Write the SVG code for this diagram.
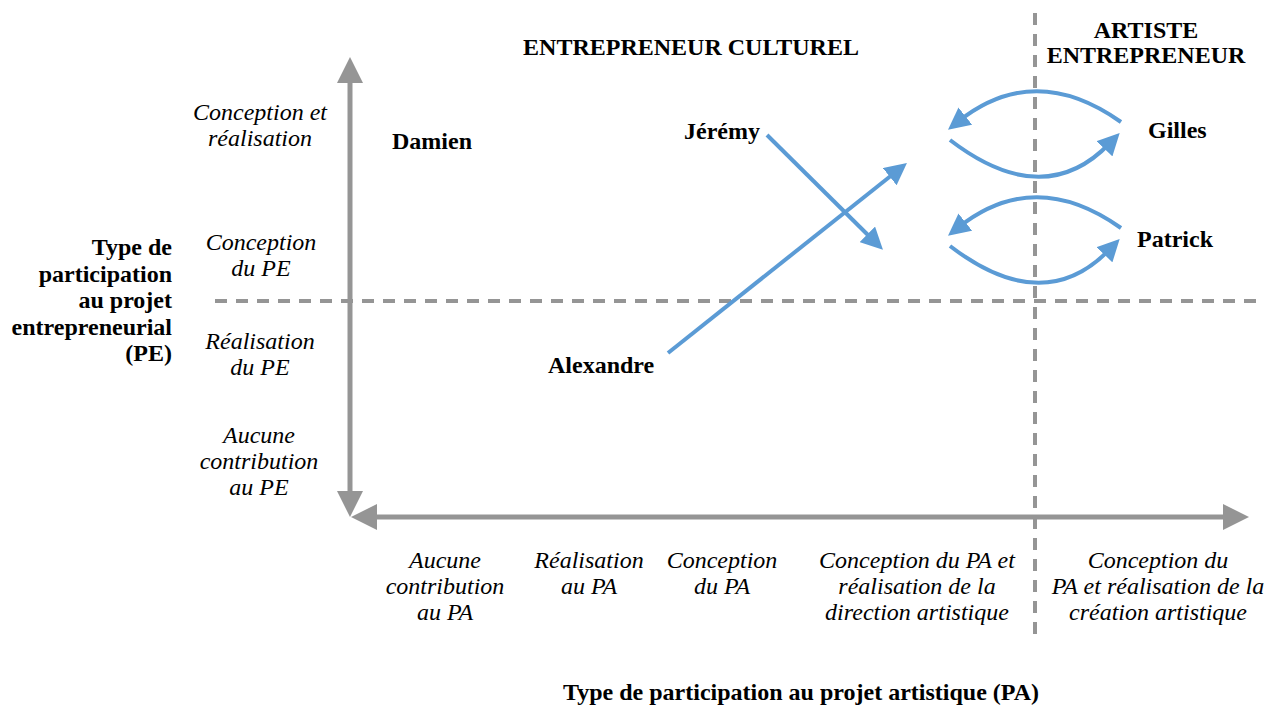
<svg xmlns="http://www.w3.org/2000/svg" width="1270" height="706" viewBox="0 0 1270 706">
<style>
.it{font-family:"Liberation Serif","Times New Roman",serif;font-style:italic;font-size:24px;fill:#000;text-anchor:middle}
.bd{font-family:"Liberation Serif","Times New Roman",serif;font-weight:bold;font-size:24px;fill:#000}
.ax{stroke:#959595;stroke-width:5;fill:none}
.dash{stroke:#959595;stroke-width:4;fill:none;stroke-dasharray:12 9}
.bl{stroke:#5b9bd5;stroke-width:4;fill:none;marker-end:url(#ba)}
</style>
<defs>
<marker id="ga" markerUnits="userSpaceOnUse" markerWidth="26" markerHeight="26" refX="6" refY="13" orient="auto" viewBox="0 0 26 26">
<path d="M0,0 L26,13 L0,26 z" fill="#959595"/>
</marker>
<marker id="ba" markerUnits="userSpaceOnUse" markerWidth="22" markerHeight="22" refX="8" refY="11" orient="auto" viewBox="0 0 22 22">
<path d="M0,0 L22,11 L0,22 z" fill="#5b9bd5"/>
</marker>
</defs>
<rect width="1270" height="706" fill="#fff"/>

<g id="grid">
<line class="dash" x1="215" y1="301" x2="1256" y2="301"/>
<line class="dash" x1="1035" y1="13" x2="1035" y2="634"/>
</g>

<g id="axes">
<line class="ax" x1="350" y1="300" x2="350" y2="77" marker-end="url(#ga)"/>
<line class="ax" x1="350" y1="300" x2="350" y2="497" marker-end="url(#ga)"/>
<line class="ax" x1="800" y1="517" x2="371" y2="517" marker-end="url(#ga)"/>
<line class="ax" x1="800" y1="517" x2="1229" y2="517" marker-end="url(#ga)"/>
</g>

<g id="connectors">
<line class="bl" x1="668" y1="353" x2="896" y2="171.7"/>
<line class="bl" x1="767" y1="135" x2="873" y2="240"/>
<path class="bl" d="M1121,122 Q1035,61 959,121"/>
<path class="bl" d="M950,140 Q1044,212 1110,143"/>
<path class="bl" d="M1121,228 Q1035,167 959,227"/>
<path class="bl" d="M950,246 Q1044,318 1110,249"/>
</g>

<g id="headers">
<text class="bd" x="691" y="55" text-anchor="middle">ENTREPRENEUR CULTUREL</text>
<text class="bd" x="1146" y="38" text-anchor="middle">ARTISTE</text>
<text class="bd" x="1146" y="63" text-anchor="middle">ENTREPRENEUR</text>
</g>

<g id="y-title">
<text class="bd" text-anchor="end"><tspan x="172" y="255">Type de</tspan><tspan x="172" y="282">participation</tspan><tspan x="172" y="308">au projet</tspan><tspan x="172" y="335">entrepreneurial</tspan><tspan x="172" y="361">(PE)</tspan></text>
</g>

<g id="y-labels">
<text class="it"><tspan x="260" y="120">Conception et</tspan><tspan x="260" y="146">réalisation</tspan></text>
<text class="it"><tspan x="261" y="250">Conception</tspan><tspan x="261" y="276">du PE</tspan></text>
<text class="it"><tspan x="260" y="349">Réalisation</tspan><tspan x="260" y="375">du PE</tspan></text>
<text class="it"><tspan x="259" y="443">Aucune</tspan><tspan x="259" y="469">contribution</tspan><tspan x="259" y="495">au PE</tspan></text>
</g>

<g id="x-labels">
<text class="it"><tspan x="445" y="568">Aucune</tspan><tspan x="445" y="594">contribution</tspan><tspan x="445" y="620">au PA</tspan></text>
<text class="it"><tspan x="589" y="568">Réalisation</tspan><tspan x="589" y="594">au PA</tspan></text>
<text class="it"><tspan x="722" y="568">Conception</tspan><tspan x="722" y="594">du PA</tspan></text>
<text class="it"><tspan x="917" y="568">Conception du PA et</tspan><tspan x="917" y="594">réalisation de la</tspan><tspan x="917" y="620">direction artistique</tspan></text>
<text class="it"><tspan x="1158" y="568">Conception du</tspan><tspan x="1158" y="594">PA et réalisation de la</tspan><tspan x="1158" y="620">création artistique</tspan></text>
</g>

<g id="x-title">
<text class="bd" x="801" y="700" text-anchor="middle">Type de participation au projet artistique (PA)</text>
</g>

<g id="node-damien"><text class="bd" x="392" y="149">Damien</text></g>
<g id="node-jeremy"><text class="bd" x="684" y="139">Jérémy</text></g>
<g id="node-alexandre"><text class="bd" x="548" y="373">Alexandre</text></g>
<g id="node-gilles"><text class="bd" x="1148" y="138">Gilles</text></g>
<g id="node-patrick"><text class="bd" x="1137" y="247">Patrick</text></g>
</svg>
